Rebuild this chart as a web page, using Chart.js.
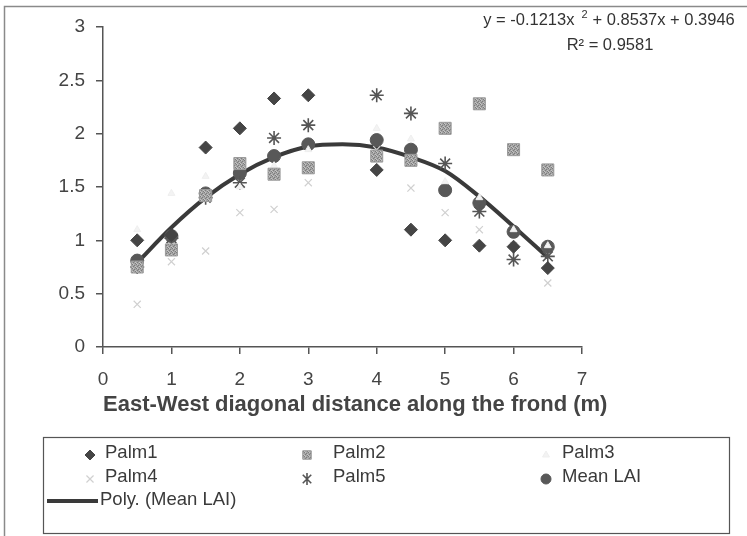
<!DOCTYPE html>
<html>
<head>
<meta charset="utf-8">
<script src="https://cdn.jsdelivr.net/npm/chart.js@4.4.1/dist/chart.umd.min.js"></script>
<style>
  html, body { margin: 0; padding: 0; background: #ffffff; }
  #wrap { position: relative; width: 747px; height: 536px; }
  canvas { display: block; }
</style>
</head>
<body>
<div id="wrap"><canvas id="c" width="747" height="536"></canvas></div>
<script>
// ---- data ----
const distances = [0.5, 1, 1.5, 2, 2.5, 3, 4, 4.5, 5, 5.5, 6, 6.5];
const palm1 = [1.00, 1.05, 1.87, 2.05, 2.33, 2.36, 1.66, 1.10, 1.00, 0.95, 0.94, 0.74];
const palm2 = [0.75, 0.91, 1.42, 1.72, 1.62, 1.68, 1.79, 1.75, 2.05, 2.28, 1.85, 1.66];
const palm3 = [1.10, 1.44, 1.60, 1.50, 1.70, 1.85, 2.05, 1.95, 1.55, 1.40, 1.10, 0.95];
const palm4 = [0.40, 0.80, 0.90, 1.26, 1.29, 1.54, 1.85, 1.49, 1.26, 1.10, 0.95, 0.60];
const palm5 = [0.75, 1.02, 1.40, 1.54, 1.96, 2.08, 2.36, 2.19, 1.72, 1.27, 0.82, 0.85];
const meanLAI = [0.81, 1.04, 1.44, 1.63, 1.79, 1.90, 1.94, 1.85, 1.47, 1.35, 1.08, 0.94];
const trendX = [0.5, 1, 1.5, 2, 2.5, 3, 3.5, 4, 4.5, 5, 5.5, 6, 6.5];
const trendY = [0.79, 1.12, 1.40, 1.62, 1.78, 1.88, 1.90, 1.87, 1.78, 1.65, 1.41, 1.13, 0.84];
const seriesNames = ["Palm1", "Palm2", "Palm3", "Palm4", "Palm5", "Mean LAI", "Poly. (Mean LAI)"];
const xTitle = "East-West diagonal distance along the frond (m)";
const eqPart1 = "y = -0.1213x";
const eqSup = "2";
const eqPart2 = "+ 0.8537x + 0.3946";
const r2Text = "R² = 0.9581";

const FONT = "'Liberation Sans', Arial, Helvetica, sans-serif";

function pts(xs, ys) { return xs.map((x, i) => ({ x: x, y: ys[i] })); }

// speckled fill for Palm2 squares
function makePattern() {
  const p = document.createElement('canvas');
  p.width = 4; p.height = 4;
  const g = p.getContext('2d');
  g.fillStyle = '#a4a4a4'; g.fillRect(0, 0, 4, 4);
  g.fillStyle = '#7c7c7c';
  g.fillRect(0, 0, 1, 1); g.fillRect(2, 1, 1, 1); g.fillRect(1, 2, 1, 1); g.fillRect(3, 3, 1, 1);
  g.fillStyle = '#c4c4c4';
  g.fillRect(1, 0, 1, 1); g.fillRect(3, 2, 1, 1); g.fillRect(0, 3, 1, 1);
  return document.getElementById('c').getContext('2d').createPattern(p, 'repeat');
}
const sqPattern = makePattern();

const styles = [
  { pointStyle: 'rectRot', radius: 6.5, bg: '#454545', border: '#454545', bw: 1 },
  { pointStyle: 'rect', radius: 8.5, bg: sqPattern, border: '#9a9a9a', bw: 1 },
  { pointStyle: 'triangle', radius: 4, bg: '#f3f3f3', border: '#efefef', bw: 1 },
  { pointStyle: 'crossRot', radius: 5, bg: '#d2d2d2', border: '#d0d0d0', bw: 1.2 },
  { pointStyle: 'star', radius: 7, bg: '#555555', border: '#555555', bw: 1.6 },
  { pointStyle: 'circle', radius: 6.5, bg: '#585858', border: '#585858', bw: 1 }
];
const seriesValues = [palm1, palm2, palm3, palm4, palm5, meanLAI];

const datasets = seriesValues.map((vals, i) => ({
  type: 'scatter',
  label: seriesNames[i],
  data: pts(distances, vals),
  pointStyle: styles[i].pointStyle,
  pointRadius: styles[i].radius,
  pointHoverRadius: styles[i].radius,
  pointBackgroundColor: styles[i].bg,
  pointBorderColor: styles[i].border,
  pointBorderWidth: styles[i].bw,
  showLine: false,
  order: i
}));
datasets.push({
  type: 'line',
  label: seriesNames[6],
  data: pts(trendX, trendY),
  borderColor: '#3a3a3a',
  borderWidth: 4,
  pointRadius: 0,
  tension: 0.4,
  cubicInterpolationMode: 'monotone',
  fill: false,
  order: 5.5
});

function drawMarker(ctx, s, x, y) {
  ctx.save();
  ctx.fillStyle = s.bg; ctx.strokeStyle = s.border; ctx.lineWidth = s.bw;
  const r = s.radius;
  ctx.beginPath();
  if (s.pointStyle === 'rectRot') {
    ctx.moveTo(x - r, y); ctx.lineTo(x, y - r); ctx.lineTo(x + r, y); ctx.lineTo(x, y + r); ctx.closePath();
    ctx.fill(); ctx.stroke();
  } else if (s.pointStyle === 'rect') {
    const h = r * Math.SQRT1_2;
    ctx.rect(x - h, y - h, 2 * h, 2 * h); ctx.fill(); ctx.stroke();
  } else if (s.pointStyle === 'triangle') {
    ctx.moveTo(x, y - r); ctx.lineTo(x + r * 0.87, y + r * 0.5); ctx.lineTo(x - r * 0.87, y + r * 0.5); ctx.closePath();
    ctx.fill(); ctx.stroke();
  } else if (s.pointStyle === 'crossRot') {
    const d = r * 0.707;
    ctx.moveTo(x - d, y - d); ctx.lineTo(x + d, y + d); ctx.moveTo(x + d, y - d); ctx.lineTo(x - d, y + d);
    ctx.stroke();
  } else if (s.pointStyle === 'star') {
    const d = r * 0.707;
    ctx.moveTo(x - d, y - d); ctx.lineTo(x + d, y + d); ctx.moveTo(x + d, y - d); ctx.lineTo(x - d, y + d);
    ctx.moveTo(x, y - r); ctx.lineTo(x, y + r);
    ctx.stroke();
  } else {
    ctx.arc(x, y, r, 0, Math.PI * 2); ctx.fill(); ctx.stroke();
  }
  ctx.restore();
}

const decorPlugin = {
  id: 'decor',
  beforeDraw(chart) {
    const ctx = chart.ctx;
    ctx.save();
    ctx.fillStyle = '#ffffff';
    ctx.fillRect(0, 0, chart.width, chart.height);
    ctx.strokeStyle = '#8a8a8a';
    ctx.lineWidth = 1.5;
    ctx.beginPath();
    ctx.moveTo(4.5, 540); ctx.lineTo(4.5, 6.5); ctx.lineTo(747, 6.5);
    ctx.stroke();
    ctx.restore();
  },
  afterDraw(chart) {
    const ctx = chart.ctx;
    ctx.save();
    // x-axis title (extends beyond the axis, as in the reference)
    const xs = chart.scales.x;
    ctx.fillStyle = '#444444';
    ctx.font = 'bold 22px ' + FONT;
    ctx.textAlign = 'left';
    ctx.textBaseline = 'middle';
    ctx.fillText(xTitle, xs.left, 405);

    // equation
    ctx.fillStyle = '#333333';
    ctx.font = '16.5px ' + FONT;
    const w1 = ctx.measureText(eqPart1).width;
    ctx.font = '11px ' + FONT;
    const ws = ctx.measureText(eqSup).width;
    ctx.font = '16.5px ' + FONT;
    const w2 = ctx.measureText(eqPart2).width;
    const gap1 = 7, gap2 = 5;
    const total = w1 + gap1 + ws + gap2 + w2;
    let ex = 609 - total / 2;
    const ey = 20;
    ctx.textAlign = 'left';
    ctx.fillText(eqPart1, ex, ey);
    ctx.font = '11px ' + FONT;
    ctx.fillText(eqSup, ex + w1 + gap1, ey - 5);
    ctx.font = '16.5px ' + FONT;
    ctx.fillText(eqPart2, ex + w1 + gap1 + ws + gap2, ey);
    ctx.textAlign = 'center';
    ctx.fillText(r2Text, 610, 45);

    // legend box
    ctx.strokeStyle = '#555555';
    ctx.lineWidth = 1.2;
    ctx.strokeRect(43.5, 437.5, 686, 96);
    ctx.font = '18.5px ' + FONT;
    ctx.fillStyle = '#3a3a3a';
    ctx.textAlign = 'left';
    ctx.textBaseline = 'middle';
    const cols = [{ m: 90, t: 105 }, { m: 307, t: 333 }, { m: 546, t: 562 }];
    const rows = [453, 477];
    for (let i = 0; i < 6; i++) {
      const c = cols[i % 3], r = rows[Math.floor(i / 3)];
      const s = Object.assign({}, styles[i]);
      if (s.pointStyle === 'rect') s.radius = 6;
      if (s.pointStyle === 'rectRot') s.radius = 5;
      if (s.pointStyle === 'circle') s.radius = 5;
      if (s.pointStyle === 'star') s.radius = 6;
      drawMarker(ctx, s, c.m, r + 2);
      ctx.fillText(chart.data.datasets[i].label, c.t, r);
    }
    ctx.strokeStyle = '#3a3a3a';
    ctx.lineWidth = 4;
    ctx.beginPath(); ctx.moveTo(47, 501); ctx.lineTo(98, 501); ctx.stroke();
    ctx.fillText(chart.data.datasets[6].label, 100, 500);
    ctx.restore();
  }
};

new Chart(document.getElementById('c'), {
  type: 'scatter',
  data: { datasets: datasets },
  options: {
    responsive: false,
    animation: false,
    layout: { padding: { left: 4, right: 165, top: 27, bottom: 118 } },
    plugins: { legend: { display: false }, tooltip: { enabled: false } },
    scales: {
      x: {
        type: 'linear', min: 0, max: 7,
        afterFit(s) { s.height = 71; },
        ticks: { stepSize: 1, color: '#444444', font: { family: FONT, size: 19 }, padding: 14, callback: v => String(v) },
        grid: { drawOnChartArea: false, drawTicks: true, tickLength: 7, color: '#555555', lineWidth: 1.5 },
        border: { display: true, color: '#555555', width: 1.5 },
        title: { display: false }
      },
      y: {
        type: 'linear', min: 0, max: 3,
        afterFit(s) { s.width = 99; },
        ticks: { stepSize: 0.5, color: '#444444', font: { family: FONT, size: 19 }, padding: 11, callback: v => String(v) },
        grid: { drawOnChartArea: false, drawTicks: true, tickLength: 7, color: '#555555', lineWidth: 1.5 },
        border: { display: true, color: '#555555', width: 1.5 }
      }
    }
  },
  plugins: [decorPlugin]
});
</script>
</body>
</html>
